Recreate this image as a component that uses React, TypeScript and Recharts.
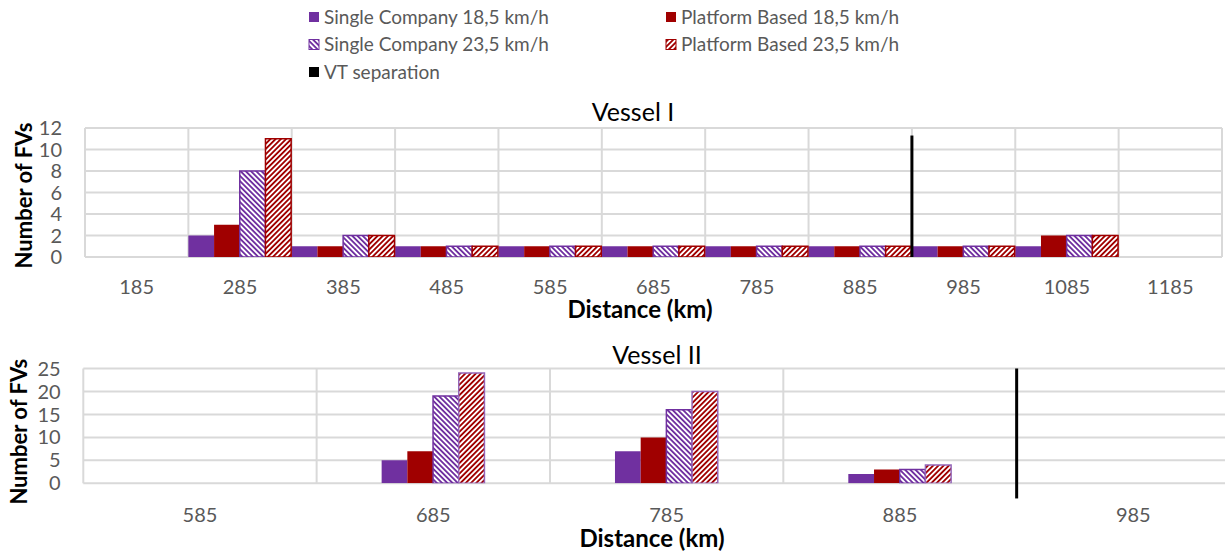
import React from "react";
import { BarChart, Bar, XAxis, YAxis, CartesianGrid, ReferenceLine } from "recharts";

const PURPLE = "#7030a0";
const RED = "#a00000";
const GRID = "#d9d9d9";
const TEXT = "#595959";
const FONT = "Lato, 'Noto Sans', sans-serif";

const seriesNames = [
  "Single Company 18,5 km/h",
  "Platform Based 18,5 km/h",
  "Single Company 23,5 km/h",
  "Platform Based 23,5 km/h",
];
const vtName = "VT separation";

// Vessel I
const v1Distances = ["185", "285", "385", "485", "585", "685", "785", "885", "985", "1085", "1185"];
const v1Single185 = [0, 2, 1, 1, 1, 1, 1, 1, 1, 1, 0];
const v1Platform185 = [0, 3, 1, 1, 1, 1, 1, 1, 1, 2, 0];
const v1Single235 = [0, 8, 2, 1, 1, 1, 1, 1, 1, 2, 0];
const v1Platform235 = [0, 11, 2, 1, 1, 1, 1, 1, 1, 2, 0];
const v1YTicks = [0, 2, 4, 6, 8, 10, 12];
// VT separation sits on the boundary in front of the 985 km class
const v1VT = [
  { x: "985", y: 0 },
  { x: "985", y: 11.3 },
];

// Vessel II
const v2Distances = ["585", "685", "785", "885", "985"];
const v2Single185 = [0, 5, 7, 2, 0];
const v2Platform185 = [0, 7, 10, 3, 0];
const v2Single235 = [0, 19, 16, 3, 0];
const v2Platform235 = [0, 24, 20, 4, 0];
const v2YTicks = [0, 5, 10, 15, 20, 25];
const v2VT = [
  { x: "985", y: -3.3 },
  { x: "985", y: 25 },
];

const tickStyle = { fill: TEXT, fontSize: 20, fontFamily: FONT };

function VesselChart(props: any) {
  const { width, height, margin, yWidth, yTickMargin, xTickMargin, distances, series, yTicks, vt, redHatchStroke } = props;
  const data = distances.map((d: string, i: number) => ({
    d,
    sc185: series[0][i],
    pb185: series[1][i],
    sc235: series[2][i],
    pb235: series[3][i],
  }));

  // vertical grid lines on the class boundaries (band starts) plus the right edge
  const gridX = (args: any) => {
    const off = args?.offset;
    if (!off) return [];
    const s = args?.xAxis?.scale;
    const n = distances.length;
    let xs = distances.map((d: string) =>
      typeof s === "function" ? s(d) : typeof s?.map === "function" ? s.map(d) : NaN
    );
    if (!xs.every((v: any) => Number.isFinite(v))) {
      xs = distances.map((_: string, i: number) => off.left + (i * off.width) / n);
    }
    return [...xs, off.left + off.width];
  };

  return (
    <BarChart width={width} height={height} data={data} margin={margin} barGap={0} style={{ fontFamily: FONT }}>
      <CartesianGrid stroke={GRID} strokeWidth={2} verticalCoordinatesGenerator={gridX} />
      <XAxis
        dataKey="d"
        tickLine={false}
        axisLine={false}
        tick={tickStyle}
        tickSize={6}
        tickMargin={xTickMargin}
        height={40}
        interval={0}
      />
      <YAxis
        domain={[yTicks[0], yTicks[yTicks.length - 1]]}
        ticks={yTicks}
        width={yWidth}
        tickLine={false}
        axisLine={false}
        tick={tickStyle}
        tickSize={6}
        tickMargin={yTickMargin}
        interval={0}
        allowDataOverflow
      />
      <Bar dataKey="sc185" fill={PURPLE} barSize={25.7} isAnimationActive={false} />
      <Bar dataKey="pb185" fill={RED} barSize={25.7} isAnimationActive={false} />
      <Bar dataKey="sc235" fill="url(#hatchPurple)" stroke={PURPLE} strokeWidth={1.5} barSize={25.7} isAnimationActive={false} />
      <Bar dataKey="pb235" fill="url(#hatchRed)" stroke={redHatchStroke} strokeWidth={1.5} barSize={25.7} isAnimationActive={false} />
      <ReferenceLine segment={vt} position="start" stroke="#000" strokeWidth={3} ifOverflow="visible" />
    </BarChart>
  );
}

function LegendKey({ x, y, fill, stroke, label }: any) {
  return (
    <g>
      <rect x={x} y={y - 5} width={10} height={10} fill={fill} stroke={stroke} strokeWidth={1} />
      <text x={x + 15} y={y + 6.5} fontSize={19} fill={TEXT} fontFamily={FONT}>
        {label}
      </text>
    </g>
  );
}

export default function App() {
  return (
    <div
      style={{
        position: "fixed",
        left: 0,
        top: 0,
        width: 1225,
        height: 552,
        overflow: "hidden",
        background: "#fff",
      }}
    >
      <div style={{ position: "absolute", left: 0, top: 0 }}>
        <VesselChart
          width={1225}
          height={330}
          margin={{ top: 128, right: 3, bottom: 33, left: 0 }}
          yWidth={85}
          yTickMargin={17}
          xTickMargin={17}
          distances={v1Distances}
          series={[v1Single185, v1Platform185, v1Single235, v1Platform235]}
          yTicks={v1YTicks}
          vt={v1VT}
          redHatchStroke={RED}
        />
      </div>
      <div style={{ position: "absolute", left: 0, top: 330 }}>
        <VesselChart
          width={1260}
          height={222}
          margin={{ top: 38.5, right: 10, bottom: 28.7, left: 0 }}
          yWidth={83.3}
          yTickMargin={16.6}
          xTickMargin={18}
          distances={v2Distances}
          series={[v2Single185, v2Platform185, v2Single235, v2Platform235]}
          yTicks={v2YTicks}
          vt={v2VT}
          redHatchStroke="#9466b8"
        />
      </div>
      <svg
        width={1225}
        height={552}
        style={{ position: "absolute", left: 0, top: 0, pointerEvents: "none" }}
      >
        <defs>
          <pattern id="hatchPurple" patternUnits="userSpaceOnUse" width={3.7} height={3.7} patternTransform="rotate(-45)">
            <rect width={3.7} height={3.7} fill="#fff" />
            <rect width={1.85} height={3.7} fill={PURPLE} />
          </pattern>
          <pattern id="hatchRed" patternUnits="userSpaceOnUse" width={3.7} height={3.7} patternTransform="rotate(45)">
            <rect width={3.7} height={3.7} fill="#fff" />
            <rect width={1.85} height={3.7} fill={RED} />
          </pattern>
        </defs>

        <LegendKey x={309} y={17} fill={PURPLE} label={seriesNames[0]} />
        <LegendKey x={666} y={17} fill={RED} label={seriesNames[1]} />
        <LegendKey x={309} y={44.5} fill="url(#hatchPurple)" stroke={PURPLE} label={seriesNames[2]} />
        <LegendKey x={666} y={44.5} fill="url(#hatchRed)" stroke={RED} label={seriesNames[3]} />
        <LegendKey x={309} y={72} fill="#000" label={vtName} />

        <text x={633} y={121} textAnchor="middle" fontSize={25} fill="#000" fontFamily={FONT}>
          Vessel I
        </text>
        <text x={657} y={364} textAnchor="middle" fontSize={25} fill="#000" fontFamily={FONT}>
          Vessel II
        </text>

        <text x={640} y={318} textAnchor="middle" fontSize={24} fontWeight={700} fill="#000" fontFamily={FONT}>
          Distance (km)
        </text>
        <text x={652} y={546.5} textAnchor="middle" fontSize={24} fontWeight={700} fill="#000" fontFamily={FONT}>
          Distance (km)
        </text>

        <text
          transform="translate(31.8,195.5) rotate(-90)"
          textAnchor="middle"
          fontSize={22}
          fontWeight={700}
          fill="#000"
          fontFamily={FONT}
        >
          Number of FVs
        </text>
        <text
          transform="translate(26.6,431.7) rotate(-90)"
          textAnchor="middle"
          fontSize={22}
          fontWeight={700}
          fill="#000"
          fontFamily={FONT}
        >
          Number of FVs
        </text>
      </svg>
    </div>
  );
}
